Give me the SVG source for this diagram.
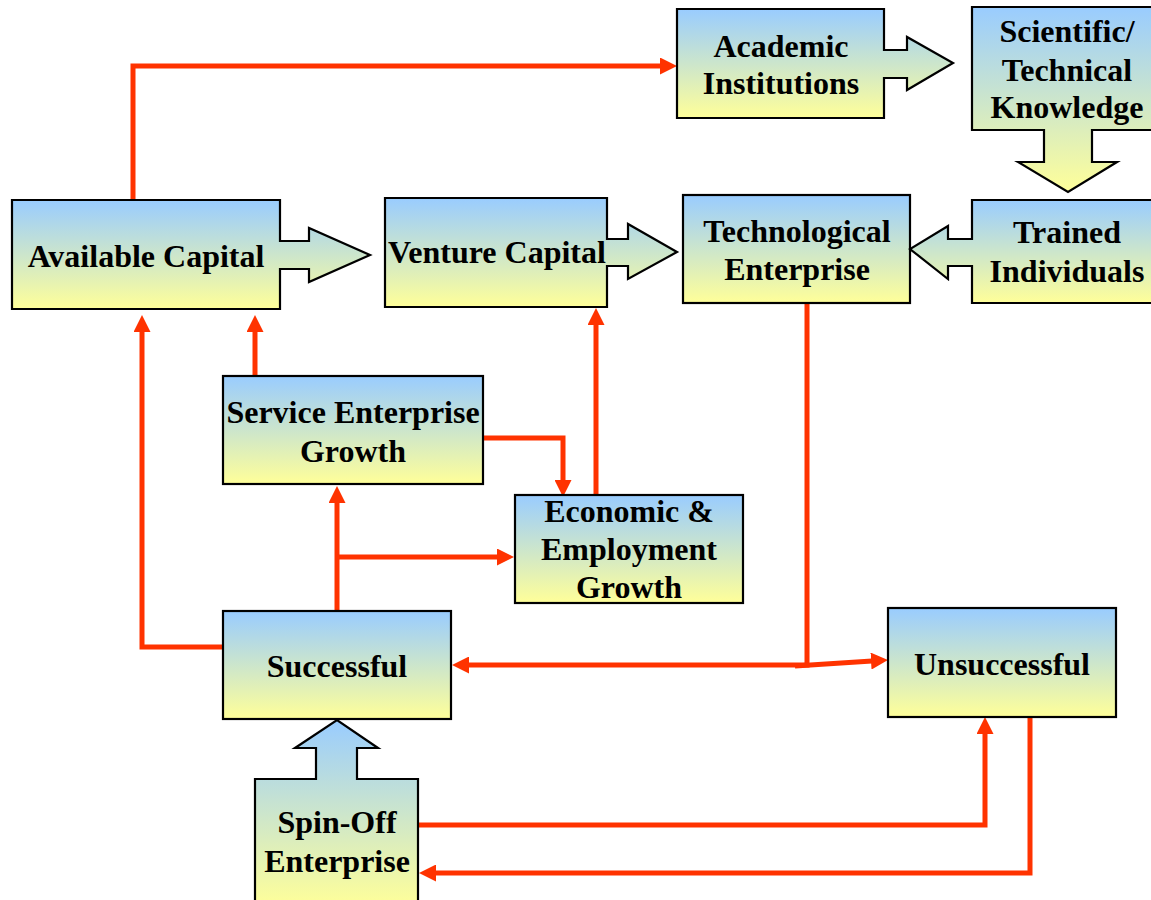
<svg xmlns="http://www.w3.org/2000/svg" width="1151" height="900" viewBox="0 0 1151 900">
<style>
.n{fill:url(#g);stroke:#000;stroke-width:2.2}
.t{font-family:"Liberation Serif","Times New Roman",serif;font-weight:bold;font-size:32px;fill:#000;text-anchor:middle}
.c{fill:none;stroke:#FF3300;stroke-width:5;stroke-linejoin:miter;marker-end:url(#ah)}
</style>
<defs>
<linearGradient id="g" x1="0" y1="0" x2="0" y2="1">
<stop offset="0" stop-color="#99CCFF"/>
<stop offset="1" stop-color="#FFFF99"/>
</linearGradient>
<marker id="ah" viewBox="0 0 17 17" refX="1" refY="8.5" markerWidth="17" markerHeight="17" markerUnits="userSpaceOnUse" orient="auto">
<path d="M0,0 L17,8.5 L0,17 Z" fill="#FF3300"/>
</marker>
</defs>
<rect width="1151" height="900" fill="#fff"/>

<g id="connectors">
<path class="c" d="M133,200 V66 H661"/>
<path class="c" d="M255,376 V331"/>
<path class="c" d="M223,647 H142 V331"/>
<path class="c" d="M337,611 V502"/>
<path class="c" d="M337,557 H498"/>
<path class="c" d="M483,438 H563 V481"/>
<path class="c" d="M596,495 V324"/>
<path class="c" d="M807,304 V665 H468"/>
<path class="c" d="M795,666 L872,661"/>
<path class="c" d="M418,825 H985 V733"/>
<path class="c" d="M1030,717 V873 H435"/>
</g>

<g id="academic">
<path class="n" d="M677,9 H884 V50 H907 V37 L953,63 L907,90 V78 H884 V118 H677 Z"/>
<text class="t" x="781" y="57">Academic</text>
<text class="t" x="781" y="94">Institutions</text>
</g>
<g id="scientific">
<path class="n" d="M972,7 H1156 V130 H1092 V162 H1117 L1068,192 L1018,162 H1044 V130 H972 Z"/>
<text class="t" x="1067" y="42">Scientific/</text>
<text class="t" x="1067" y="81">Technical</text>
<text class="t" x="1067" y="118">Knowledge</text>
</g>
<g id="available">
<path class="n" d="M12,200 H280 V241 H309 V228 L370,255 L309,282 V269 H280 V309 H12 Z"/>
<text class="t" x="146" y="267">Available Capital</text>
</g>
<g id="venture">
<path class="n" d="M385,198 H607 V239 H628 V224 L677,252 L628,279 V266 H607 V307 H385 Z"/>
<text class="t" x="497" y="263">Venture Capital</text>
</g>
<g id="technological">
<rect class="n" x="683" y="195" width="227" height="108"/>
<text class="t" x="797" y="242">Technological</text>
<text class="t" x="797" y="280">Enterprise</text>
</g>
<g id="trained">
<path class="n" d="M972,200 H1156 V303 H972 V266 H948 V279 L910,249 L948,226 V239 H972 Z"/>
<text class="t" x="1067" y="243">Trained</text>
<text class="t" x="1067" y="282">Individuals</text>
</g>
<g id="service">
<rect class="n" x="223" y="376" width="260" height="108"/>
<text class="t" x="353" y="423">Service Enterprise</text>
<text class="t" x="353" y="462">Growth</text>
</g>
<g id="economic">
<rect class="n" x="515" y="495" width="228" height="108"/>
<text class="t" x="629" y="522">Economic &amp;</text>
<text class="t" x="629" y="560">Employment</text>
<text class="t" x="629" y="598">Growth</text>
</g>
<g id="successful">
<rect class="n" x="223" y="611" width="228" height="108"/>
<text class="t" x="337" y="677">Successful</text>
</g>
<g id="unsuccessful">
<rect class="n" x="888" y="608" width="228" height="109"/>
<text class="t" x="1002" y="675">Unsuccessful</text>
</g>
<g id="spinoff">
<path class="n" d="M255,779 H316 V748 H295 L337,720 L378,748 H357 V779 H418 V906 H255 Z"/>
<text class="t" x="337" y="833">Spin-Off</text>
<text class="t" x="337" y="872">Enterprise</text>
</g>
</svg>
